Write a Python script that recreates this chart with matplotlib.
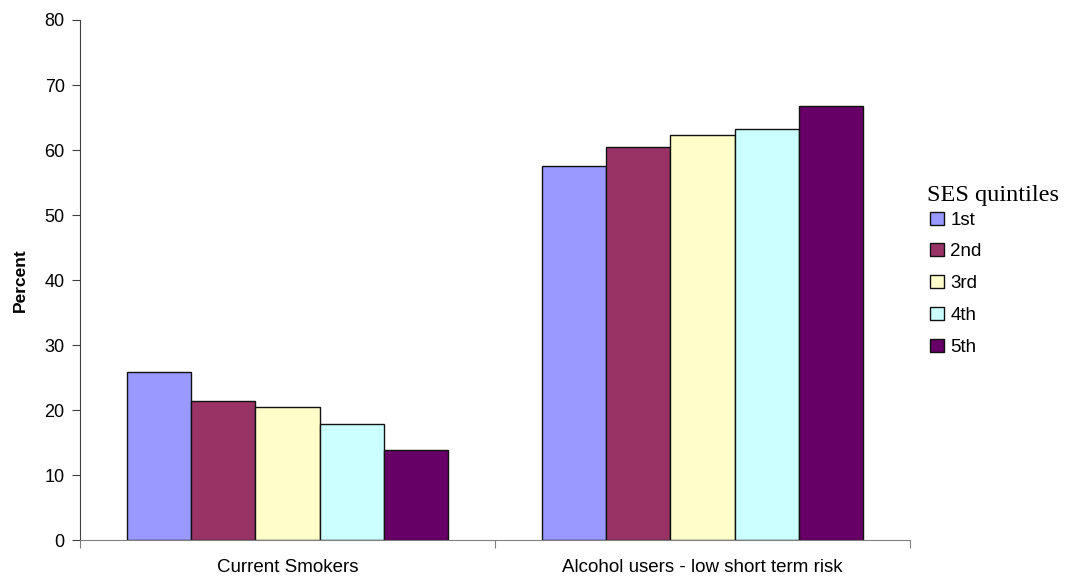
import numpy as np
import matplotlib.pyplot as plt

categories = ["Current Smokers", "Alcohol users - low short term risk"]
quintiles = ["1st", "2nd", "3rd", "4th", "5th"]
values = {
    "1st": [25.9, 57.6],
    "2nd": [21.4, 60.4],
    "3rd": [20.5, 62.3],
    "4th": [17.8, 63.2],
    "5th": [13.8, 66.8],
}
colors = ["#9999FF", "#993366", "#FFFFCC", "#CCFFFF", "#660066"]

plt.rcParams['font.family'] = ['Liberation Sans', 'DejaVu Sans']

fig = plt.figure(figsize=(10.77, 5.78), dpi=100)
ax = fig.add_axes([0.0743, 0.0657, 0.7707, 0.8997])

x = np.arange(len(categories))
width = 0.155
handles = []
for i, q in enumerate(quintiles):
    b = ax.bar(x + (i - 2) * width, values[q], width, color=colors[i],
               edgecolor="#111111", linewidth=1.0, label=q)
    handles.append(b)

ax.set_xlim(-0.5, 1.5)
ax.set_ylim(0, 80)
ax.set_yticks(range(0, 81, 10))
ax.set_xticks([-0.5, 0.5, 1.5])
ax.set_xticklabels([])
ax.set_xticks(x, minor=True)
ax.set_xticklabels(categories, minor=True, fontsize=13.5)
ax.tick_params(axis="x", which="minor", length=0, pad=14)
ax.tick_params(axis="x", which="major", length=6, color="#808080")
ax.tick_params(axis="y", length=6, labelsize=13, color="#404040", pad=5)
ax.set_ylabel("Percent", fontsize=12.5, fontweight="bold", labelpad=12)

for s in ["top", "right"]:
    ax.spines[s].set_visible(False)
ax.spines["left"].set_color("#404040")
ax.spines["bottom"].set_color("#808080")

leg = fig.legend(handles=handles, labels=quintiles, loc="upper left",
                 bbox_to_anchor=(0.857, 0.647), frameon=False, fontsize=13.5,
                 handlelength=0.7, handleheight=0.7, handletextpad=0.35,
                 labelspacing=0.78, borderaxespad=0)
fig.text(0.861, 0.662, "SES quintiles", family="Liberation Serif", fontsize=17.5,
         va="center", ha="left")

fig.savefig("out.png", dpi=100)
